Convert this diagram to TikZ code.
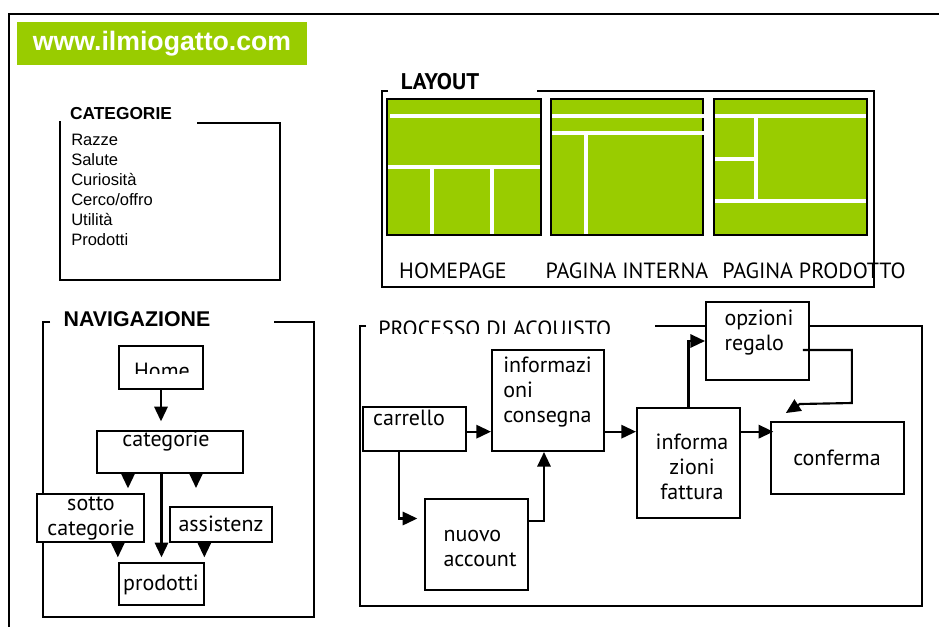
\documentclass[tikz,border=0pt]{standalone}
\usepackage{fontspec}
\setmainfont{Liberation Sans}
\newfontfamily\boxfont{PT Sans}
\usetikzlibrary{arrows.meta,positioning,fit}
\definecolor{lime}{HTML}{99CC00}

\begin{document}
\begin{tikzpicture}[
        x=0.75pt, y=-0.75pt,
        >={Triangle[length=11pt,width=10pt]},
        % Block styles
        frame/.style={draw=black, line width=1.5pt},
        heading/.style={font=\bfseries\fontsize{#1}{#1}\selectfont, inner sep=0pt},
        pagebox/.style={fill=lime, draw=black, line width=1.5pt},
        divider/.style={draw=white, line width=2.3pt},
        box/.style={draw=black, line width=1.5pt, fill=white, inner sep=0pt},
        boxtext/.style={inner sep=0pt, align=#1, font=\boxfont\fontsize{16.5}{18.75}\selectfont},
        boxtext/.default=center,
        link/.style={->, line width=1.6pt}
    ]
    \useasboundingbox (0,0) rectangle (939,626);

    % Outer sheet
    \draw[frame] (9,640) -- (9,14) -- (950,14);

    % Banner
    \node[fill=lime, minimum width=217.5pt, minimum height=32.25pt, inner sep=0pt,
          text=white, heading=20] (banner) at (162,43.5) {www.ilmiogatto.com};

    % Categorie
    \node[heading=13] (cattitle) at (121,114) {CATEGORIE};
    \draw[frame] (60,121) -- (60,280) -- (280,280) -- (280,123) -- (197,123);
    \node[anchor=north west, inner sep=0pt, align=left,
          font=\fontsize{12.4}{15}\selectfont] (catlist) at (71,134)
          {Razze\\Salute\\Curiosità\\Cerco/offro\\Utilità\\Prodotti};

    % Layout
    \node[inner sep=0pt, font=\boxfont\bfseries\fontsize{17}{17}\selectfont] (laytitle) at (440,82) {LAYOUT};
    \draw[frame] (388,91) -- (382,91) -- (382,287) -- (874,287) -- (874,91) -- (537,91);
    \draw[pagebox] (387,99) rectangle (541,235);
    \draw[divider] (390,116) -- (540,116) (388,167) -- (540,167)
                   (432,167) -- (432,234) (492,167) -- (492,234);
    \draw[pagebox] (551,99) rectangle (703,235);
    \draw[divider] (552,116) -- (705,116) (552,133) -- (705,133) (586,133) -- (586,234);
    \draw[pagebox] (714,99) rectangle (867,235);
    \draw[divider] (715,116) -- (866,116) (756,116) -- (756,200)
                   (715,159) -- (756,159) (715,201) -- (866,201);
    \node[boxtext] (homepage) at (453,271) {HOMEPAGE};
    \node[boxtext] (interna) at (627,271) {PAGINA INTERNA};
    \node[boxtext] (prodotto) at (814,271) {PAGINA PRODOTTO};

    % Navigazione
    \node[heading=16] (navtitle) at (137,319) {NAVIGAZIONE};
    \draw[frame] (50,322) -- (43,322) -- (43,617) -- (314,617) -- (314,322) -- (274,322);
    \node[box, fit={(119,346) (203,389)}] (home) {};
    \begin{scope}
        \clip (119,346) rectangle (203,373);
        \node[boxtext] (hometext) at (162,371) {Home};
    \end{scope}
    \node[box, fit={(97,431) (243,473)}] (categorie) {};
    \node[boxtext] (cattext) at (166,441) {categorie};
    \node[box, fit={(37,494) (144,542)}] (sotto) {};
    \node[boxtext] (sottotext) at (91,518) {sotto\\categorie};
    \node[box, fit={(170,507) (272,542)}] (assist) {};
    \node[boxtext] (assisttext) at (221,524) {assistenz};
    \node[box, fit={(119,563) (204,605)}] (prodotti) {};
    \node[boxtext] (prodtext) at (161,585) {prodotti};

    \draw[link, shorten >=6.5pt] (home.south) -- (home.south |- categorie.north);
    \draw[link, shorten >=3.5pt] ([xshift=-31.5pt]categorie.south) -- ([xshift=-31.5pt]categorie.south |- sotto.north);
    \draw[link, shorten >=13.5pt] ([xshift=19.5pt]categorie.south) -- ([xshift=19.5pt]categorie.south |- assist.north);
    \draw[link, shorten >=3.5pt] (categorie.south -| prodotti.north) -- (prodotti);
    \draw[link, shorten >=3.5pt] ([xshift=20.5pt]sotto.south) -- ([xshift=20.5pt]sotto.south |- prodotti.north);
    \draw[link, shorten >=3.5pt] ([xshift=-12.5pt]assist.south) -- ([xshift=-12.5pt]assist.south |- prodotti.north);

    % Processo di acquisto
    \begin{scope}
        \clip (370,300) rectangle (650,333);
        \node[boxtext, anchor=west] (proctitle) at (378,331) {PROCESSO DI ACQUISTO};
    \end{scope}
    \draw[frame] (366,326) -- (360,326) -- (360,606) -- (922,606) -- (922,326) -- (655,326);
    \node[box, fit={(363,407) (466,451)}] (carrello) {};
    \node[boxtext] (carrtext) at (409,418) {carrello};
    \node[box, fit={(492,350) (604,451)}] (consegna) {};
    \node[boxtext=left, anchor=north west] (constext) at (503,357) {informazi\\oni\\consegna};
    \node[box, fit={(425,499) (528,590)}] (nuovo) {};
    \node[boxtext=left] (nuovotext) at (480,548) {nuovo\\account};
    \node[box, fit={(637,408) (740,518)}] (fattura) {};
    \node[boxtext] (fattext) at (692,467) {informa\\zioni\\fattura};
    \node[box, fit={(706,302) (809,380)}] (opzioni) {};
    \node[boxtext=left] (opztext) at (759,333) {opzioni\\regalo};
    \node[box, fit={(771,422) (904,494)}] (conferma) {};
    \node[boxtext] (conftext) at (837,458) {conferma};

    \draw[link] ([yshift=-2pt]carrello.east) -- ([yshift=-2pt]carrello.east -| consegna.west);
    \draw[link] ([yshift=-2pt]carrello.east -| consegna.east) -- ([yshift=-2pt]carrello.east -| fattura.west);
    \draw[link] ([yshift=-2pt]carrello.east -| fattura.east) -- ([yshift=-2pt,xshift=2.5pt]carrello.east -| conferma.west);
    \draw[link, shorten >=5pt] ([xshift=27.75pt]carrello.south west) |- ([yshift=19.5pt]nuovo.west);
    \draw[link] ([yshift=17.5pt]nuovo.east) -| ([xshift=-3pt]consegna.south);
    \draw[link] (fattura.north) |- (opzioni.west);
    \draw[link] ([xshift=34pt,yshift=-6.75pt]opzioni.center) -| ++(49,53) -- ++(-52,1) -- ++(-14,9);

\end{tikzpicture}
\end{document}
